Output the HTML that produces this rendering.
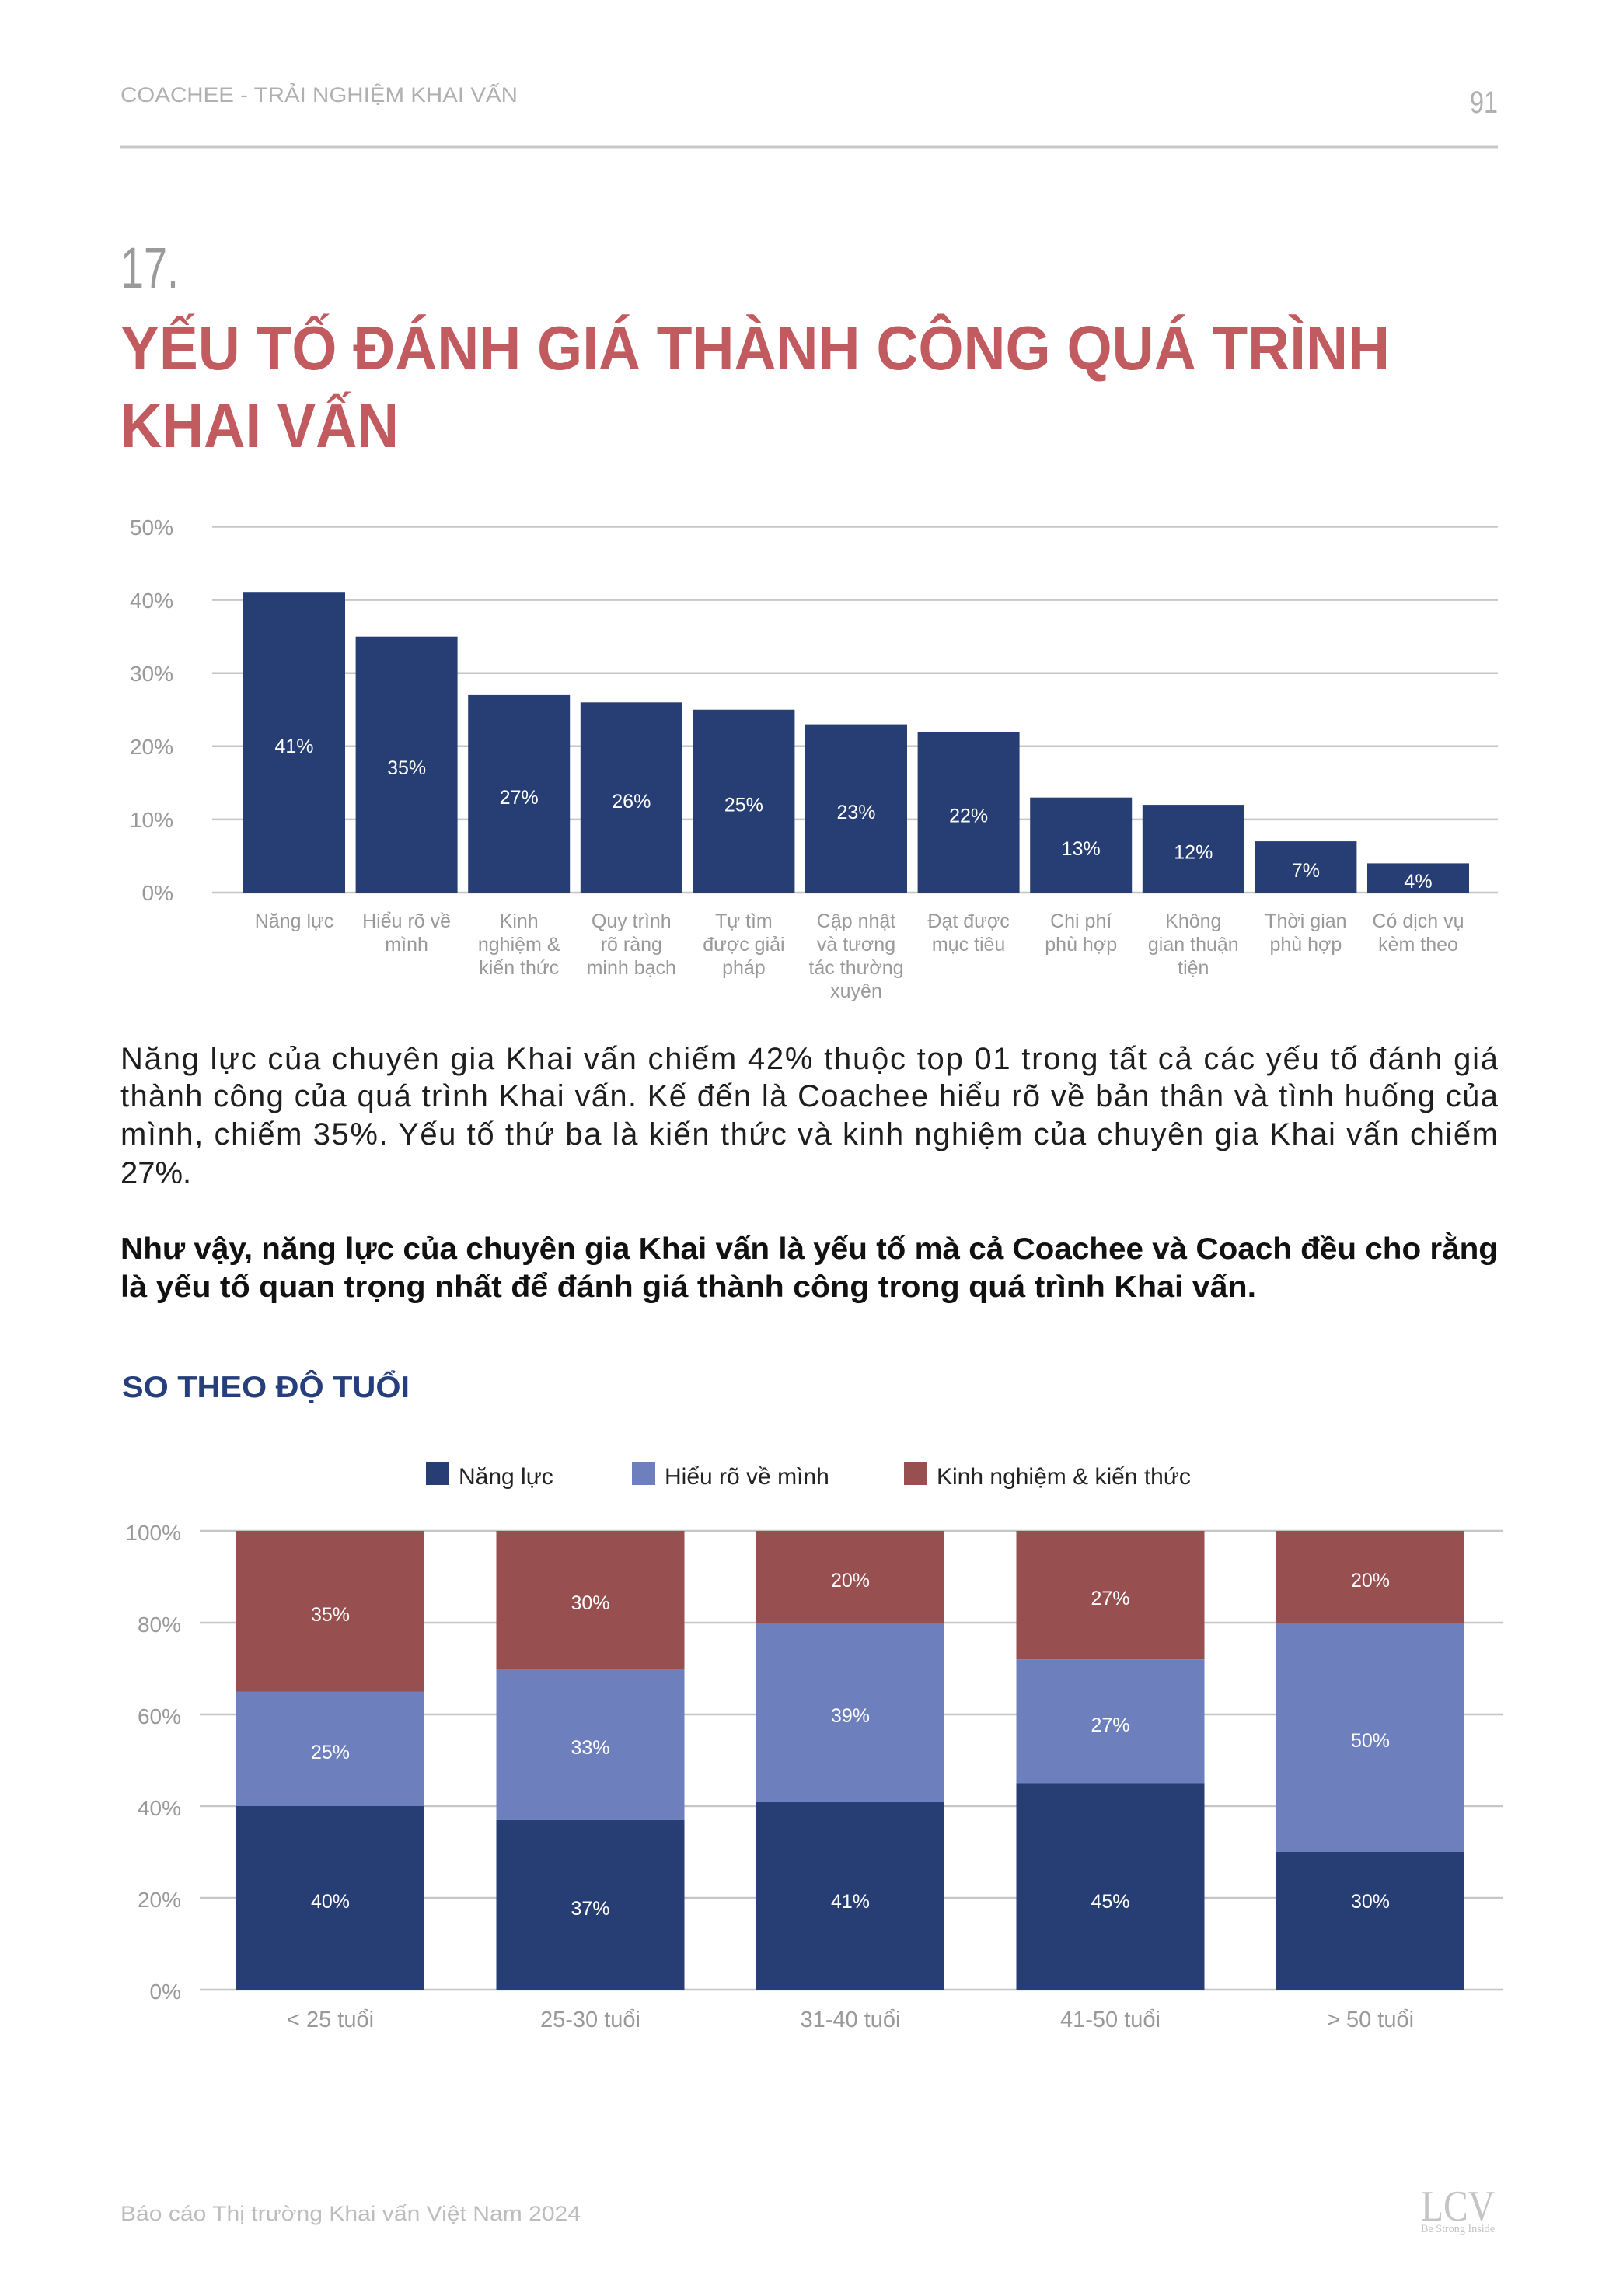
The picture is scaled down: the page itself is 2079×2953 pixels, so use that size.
<!DOCTYPE html>
<html lang="vi">
<head>
<meta charset="utf-8">
<title>Yếu tố đánh giá thành công quá trình Khai vấn</title>
<style>
  html, body { margin: 0; padding: 0; background: #ffffff; }
  body { width: 2079px; height: 2953px; overflow: hidden; }
  svg { display: block; }
  text { font-family: "Liberation Sans", "DejaVu Sans", sans-serif; }
</style>
</head>
<body>
<svg xmlns="http://www.w3.org/2000/svg" width="2079" height="2953" viewBox="0 0 2079 2953">
  <rect x="0" y="0" width="2079" height="2953" fill="#ffffff"/>

  <!-- Header -->
  <text x="155" y="131" font-size="27" fill="#b0b0b0" textLength="511" lengthAdjust="spacingAndGlyphs">COACHEE - TRẢI NGHIỆM KHAI VẤN</text>
  <text x="1927" y="145" font-size="40" fill="#b0b0b0" text-anchor="end" textLength="36" lengthAdjust="spacingAndGlyphs">91</text>
  <line x1="155" y1="189" x2="1927" y2="189" stroke="#c8c8c8" stroke-width="3"/>

  <!-- Title -->
  <text x="155" y="370" font-size="74" fill="#9a9a9a" textLength="75" lengthAdjust="spacingAndGlyphs">17.</text>
  <text x="155" y="475" font-size="80" font-weight="bold" fill="#c25b5f" textLength="1633" lengthAdjust="spacingAndGlyphs">YẾU TỐ ĐÁNH GIÁ THÀNH CÔNG QUÁ TRÌNH</text>
  <text x="155" y="575" font-size="80" font-weight="bold" fill="#c25b5f" textLength="358" lengthAdjust="spacingAndGlyphs">KHAI VẤN</text>

  <!-- Chart 1 gridlines -->
  <g stroke="#c6c6c6" stroke-width="2.5">
    <line x1="273" y1="677.5" x2="1927" y2="677.5"/>
    <line x1="273" y1="771.6" x2="1927" y2="771.6"/>
    <line x1="273" y1="865.7" x2="1927" y2="865.7"/>
    <line x1="273" y1="959.8" x2="1927" y2="959.8"/>
    <line x1="273" y1="1053.9" x2="1927" y2="1053.9"/>
    <line x1="273" y1="1148" x2="1927" y2="1148"/>
  </g>
  <g font-size="28" fill="#999999" text-anchor="end">
    <text x="223" y="688">50%</text>
    <text x="223" y="782">40%</text>
    <text x="223" y="876">30%</text>
    <text x="223" y="970">20%</text>
    <text x="223" y="1064">10%</text>
    <text x="223" y="1158">0%</text>
  </g>

  <!-- Chart 1 bars -->
  <g fill="#273e75">
    <rect x="313" y="762.2" width="131" height="385.8"/>
    <rect x="457.6" y="818.7" width="131" height="329.3"/>
    <rect x="602.2" y="893.9" width="131" height="254.1"/>
    <rect x="746.8" y="903.3" width="131" height="244.7"/>
    <rect x="891.4" y="912.75" width="131" height="235.25"/>
    <rect x="1036" y="931.6" width="131" height="216.4"/>
    <rect x="1180.6" y="941" width="131" height="207"/>
    <rect x="1325.2" y="1025.7" width="131" height="122.3"/>
    <rect x="1469.8" y="1035.1" width="131" height="112.9"/>
    <rect x="1614.4" y="1082.1" width="131" height="65.9"/>
    <rect x="1759" y="1110.4" width="131" height="37.6"/>
  </g>
  <g font-size="25" fill="#ffffff" text-anchor="middle">
    <text x="378.5" y="968">41%</text>
    <text x="523.1" y="996">35%</text>
    <text x="667.7" y="1034">27%</text>
    <text x="812.3" y="1039">26%</text>
    <text x="956.9" y="1043.5">25%</text>
    <text x="1101.5" y="1053">23%</text>
    <text x="1246.1" y="1057.5">22%</text>
    <text x="1390.7" y="1100">13%</text>
    <text x="1535.3" y="1104.6">12%</text>
    <text x="1679.9" y="1128">7%</text>
    <text x="1824.5" y="1142">4%</text>
  </g>

  <!-- Chart 1 x labels -->
  <g font-size="25" fill="#999999" text-anchor="middle">
    <text x="378.5" y="1193">Năng lực</text>
    <text x="523.1" y="1193">Hiểu rõ về</text>
    <text x="523.1" y="1223">mình</text>
    <text x="667.7" y="1193">Kinh</text>
    <text x="667.7" y="1223">nghiệm &amp;</text>
    <text x="667.7" y="1253">kiến thức</text>
    <text x="812.3" y="1193">Quy trình</text>
    <text x="812.3" y="1223">rõ ràng</text>
    <text x="812.3" y="1253">minh bạch</text>
    <text x="956.9" y="1193">Tự tìm</text>
    <text x="956.9" y="1223">được giải</text>
    <text x="956.9" y="1253">pháp</text>
    <text x="1101.5" y="1193">Cập nhật</text>
    <text x="1101.5" y="1223">và tương</text>
    <text x="1101.5" y="1253">tác thường</text>
    <text x="1101.5" y="1283">xuyên</text>
    <text x="1246.1" y="1193">Đạt được</text>
    <text x="1246.1" y="1223">mục tiêu</text>
    <text x="1390.7" y="1193">Chi phí</text>
    <text x="1390.7" y="1223">phù hợp</text>
    <text x="1535.3" y="1193">Không</text>
    <text x="1535.3" y="1223">gian thuận</text>
    <text x="1535.3" y="1253">tiện</text>
    <text x="1679.9" y="1193">Thời gian</text>
    <text x="1679.9" y="1223">phù hợp</text>
    <text x="1824.5" y="1193">Có dịch vụ</text>
    <text x="1824.5" y="1223">kèm theo</text>
  </g>

  <!-- Body text -->
  <g font-size="40" fill="#1e1e1e">
    <text x="155" y="1375" textLength="1772" lengthAdjust="spacing">Năng lực của chuyên gia Khai vấn chiếm 42% thuộc top 01 trong tất cả các yếu tố đánh giá</text>
    <text x="155" y="1423" textLength="1772" lengthAdjust="spacing">thành công của quá trình Khai vấn. Kế đến là Coachee hiểu rõ về bản thân và tình huống của</text>
    <text x="155" y="1472" textLength="1772" lengthAdjust="spacing">mình, chiếm 35%. Yếu tố thứ ba là kiến thức và kinh nghiệm của chuyên gia Khai vấn chiếm</text>
    <text x="155" y="1522">27%.</text>
  </g>
  <g font-size="39" fill="#111111" font-weight="bold">
    <text x="155" y="1619" textLength="1772" lengthAdjust="spacingAndGlyphs">Như vậy, năng lực của chuyên gia Khai vấn là yếu tố mà cả Coachee và Coach đều cho rằng</text>
    <text x="155" y="1668" textLength="1461" lengthAdjust="spacingAndGlyphs">là yếu tố quan trọng nhất để đánh giá thành công trong quá trình Khai vấn.</text>
  </g>

  <!-- Section heading -->
  <text x="157" y="1797" font-size="39" font-weight="bold" fill="#263f7c" textLength="370" lengthAdjust="spacingAndGlyphs">SO THEO ĐỘ TUỔI</text>

  <!-- Legend -->
  <rect x="548" y="1880" width="30" height="30" fill="#273e75"/>
  <text x="590" y="1909" font-size="30" fill="#222222">Năng lực</text>
  <rect x="813" y="1880" width="30" height="30" fill="#6d80bd"/>
  <text x="855" y="1909" font-size="30" fill="#222222">Hiểu rõ về mình</text>
  <rect x="1163" y="1880" width="30" height="30" fill="#974f4f"/>
  <text x="1205" y="1909" font-size="30" fill="#222222">Kinh nghiệm &amp; kiến thức</text>

  <!-- Chart 2 gridlines -->
  <g stroke="#c6c6c6" stroke-width="2.5">
    <line x1="257" y1="1969" x2="1933" y2="1969"/>
    <line x1="257" y1="2087" x2="1933" y2="2087"/>
    <line x1="257" y1="2205" x2="1933" y2="2205"/>
    <line x1="257" y1="2323" x2="1933" y2="2323"/>
    <line x1="257" y1="2441" x2="1933" y2="2441"/>
    <line x1="257" y1="2559" x2="1933" y2="2559"/>
  </g>
  <g font-size="28" fill="#999999" text-anchor="end">
    <text x="233" y="1981">100%</text>
    <text x="233" y="2099">80%</text>
    <text x="233" y="2217">60%</text>
    <text x="233" y="2335">40%</text>
    <text x="233" y="2453">20%</text>
    <text x="233" y="2571">0%</text>
  </g>

  <!-- Chart 2 stacked bars -->
  <rect x="304" y="2323" width="242" height="236" fill="#273e75"/>
  <rect x="304" y="2175.5" width="242" height="147.5" fill="#6d80bd"/>
  <rect x="304" y="1969" width="242" height="206.5" fill="#974f4f"/>

  <rect x="638.5" y="2340.7" width="242" height="218.3" fill="#273e75"/>
  <rect x="638.5" y="2146" width="242" height="194.7" fill="#6d80bd"/>
  <rect x="638.5" y="1969" width="242" height="177" fill="#974f4f"/>

  <rect x="973" y="2317.1" width="242" height="241.9" fill="#273e75"/>
  <rect x="973" y="2087" width="242" height="230.1" fill="#6d80bd"/>
  <rect x="973" y="1969" width="242" height="118" fill="#974f4f"/>

  <rect x="1307.5" y="2293.5" width="242" height="265.5" fill="#273e75"/>
  <rect x="1307.5" y="2134.2" width="242" height="159.3" fill="#6d80bd"/>
  <rect x="1307.5" y="1969" width="242" height="165.2" fill="#974f4f"/>

  <rect x="1642" y="2382" width="242" height="177" fill="#273e75"/>
  <rect x="1642" y="2087" width="242" height="295" fill="#6d80bd"/>
  <rect x="1642" y="1969" width="242" height="118" fill="#974f4f"/>

  <g font-size="25" fill="#ffffff" text-anchor="middle">
    <text x="425" y="2454">40%</text>
    <text x="425" y="2262">25%</text>
    <text x="425" y="2085">35%</text>

    <text x="759.5" y="2463">37%</text>
    <text x="759.5" y="2256">33%</text>
    <text x="759.5" y="2070">30%</text>

    <text x="1094" y="2454">41%</text>
    <text x="1094" y="2215">39%</text>
    <text x="1094" y="2041">20%</text>

    <text x="1428.5" y="2454">45%</text>
    <text x="1428.5" y="2227">27%</text>
    <text x="1428.5" y="2064">27%</text>

    <text x="1763" y="2454">30%</text>
    <text x="1763" y="2247">50%</text>
    <text x="1763" y="2041">20%</text>
  </g>

  <!-- Chart 2 x labels -->
  <g font-size="29" fill="#999999" text-anchor="middle">
    <text x="425" y="2607">&lt; 25 tuổi</text>
    <text x="759.5" y="2607">25-30 tuổi</text>
    <text x="1094" y="2607">31-40 tuổi</text>
    <text x="1428.5" y="2607">41-50 tuổi</text>
    <text x="1763" y="2607">&gt; 50 tuổi</text>
  </g>

  <!-- Footer -->
  <text x="155" y="2856" font-size="27" fill="#bdbdbd" textLength="592" lengthAdjust="spacingAndGlyphs">Báo cáo Thị trường Khai vấn Việt Nam 2024</text>
  <text x="1828" y="2856" font-size="56" fill="#c4c4c4" textLength="95" lengthAdjust="spacingAndGlyphs" style="font-family:'Liberation Serif', serif">LCV</text>
  <text x="1828" y="2871" font-size="15" fill="#c4c4c4" textLength="95" lengthAdjust="spacingAndGlyphs" style="font-family:'Liberation Serif', serif">Be Strong Inside</text>
</svg>
</body>
</html>
